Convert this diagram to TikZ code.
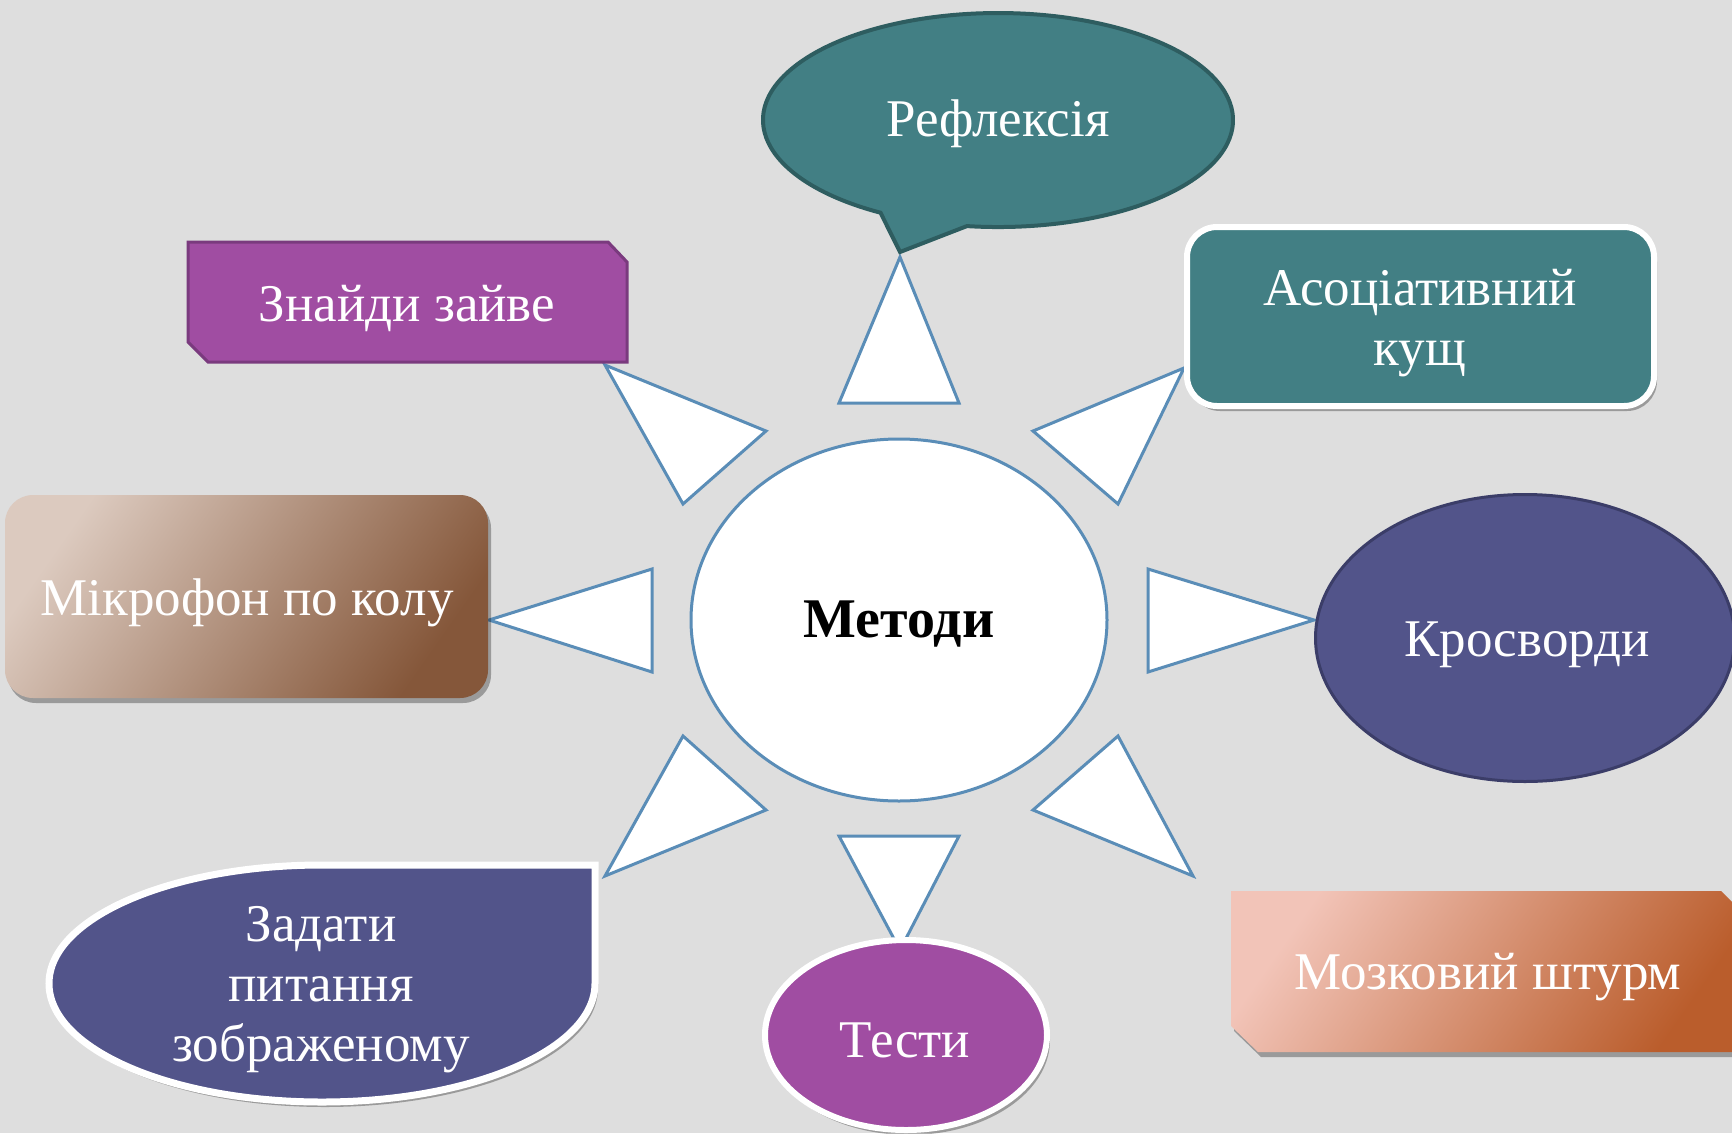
\documentclass[tikz,border=0pt]{standalone}
\usepackage{fontspec}
\setmainfont{Liberation Serif}
\usetikzlibrary{shapes.geometric,shadows}
\definecolor{bgc}{HTML}{DEDEDE}
\definecolor{tealc}{HTML}{427F84}
\definecolor{tealb}{HTML}{2E5D60}
\definecolor{purc}{HTML}{A04DA2}
\definecolor{purb}{HTML}{7A3A7E}
\definecolor{navyc}{HTML}{52548A}
\definecolor{navyb}{HTML}{3B3D68}
\definecolor{triblue}{HTML}{5A8DB7}
\definecolor{brA}{HTML}{DCCABF}
\definecolor{brB}{HTML}{B08672}
\definecolor{brC}{HTML}{85573A}
\definecolor{orA}{HTML}{F2C4B8}
\definecolor{orB}{HTML}{E5835C}
\definecolor{orC}{HTML}{BA5D2C}
\begin{document}
\begin{tikzpicture}[x=1pt,y=-1pt,
  tri/.style={draw=triblue,fill=white,line width=3pt,line join=miter},
  lbl/.style={text=white,font=\fontsize{53}{60}\selectfont,align=center,inner sep=0pt},
  shd/.style={drop shadow={shadow xshift=3pt,shadow yshift=-5pt,opacity=0.3,fill=black}}]
\useasboundingbox (0,0) rectangle (1732,1133);
\clip (0,0) rectangle (1732,1133);
\fill[bgc] (0,0) rectangle (1732,1133);
% triangles (pointers)
\draw[tri] (900,257) -- (839,403) -- (959,403) -- cycle;
\draw[tri] (900,950) -- (839,836) -- (959,836) -- cycle;
\draw[tri] (489,620) -- (652,569) -- (652,672) -- cycle;
\draw[tri] (1314,620) -- (1148,569) -- (1148,672) -- cycle;
\draw[tri] (605,365) -- (683,504) -- (766,431) -- cycle;
\draw[tri] (1184,368) -- (1033,431) -- (1118,504) -- cycle;
\draw[tri] (605,876) -- (683,736) -- (766,810) -- cycle;
\draw[tri] (1193,876) -- (1033,810) -- (1118,736) -- cycle;
% centre
\node[ellipse,draw=triblue,line width=3pt,fill=white,minimum width=416pt,minimum height=362pt,inner sep=0pt] (m) at (899,620) {};
\node[font=\fontsize{56}{60}\selectfont\bfseries,inner sep=0pt] (mt) at (899,624) {Методи};
% Рефлексія callout
\draw[fill=tealc,draw=tealb,line width=4pt,line join=miter] (880.5,212.7)
  arc[start angle=120,end angle=457.6,x radius=235,y radius=107] -- (900,252) -- cycle;
\node[lbl] (r) at (998,124) {Рефлексія};
% Асоціативний кущ
\node[shd,rectangle,rounded corners=30pt,draw=white,line width=6pt,fill=tealc,
  minimum width=467pt,minimum height=179pt] (a) at (1420.5,316.5) {};
\node[lbl] (at) at (1420,323) {Асоціативний\\кущ};
% Кросворди
\node[ellipse,draw=navyb,line width=3pt,fill=navyc,minimum width=419pt,minimum height=287pt] (k) at (1525,638) {};
\node[lbl] (kt) at (1527,645) {Кросворди};
% Мозковий штурм
\path[shd,left color=orA,middle color=orB,right color=orC,shading angle=55]
  (1231,891) -- (1721,891) -- (1745,915) -- (1745,1052) -- (1258,1052) -- (1231,1026) -- cycle;
\node[lbl] (b) at (1488,977) {Мозковий штурм};
% Тести
\node[shd,ellipse,draw=white,line width=6pt,fill=purc,minimum width=282pt,minimum height=190pt] (t) at (906,1035) {};
\node[lbl] (tt) at (905,1040) {Тести};
% Задати питання зображеному
\draw[shd,fill=navyc,draw=white,line width=7pt,line join=miter]
  (595,865) -- (595,983.5) arc[start angle=0,end angle=270,x radius=273,y radius=118.5] -- cycle;
\node[lbl] (z) at (321,990) {Задати\\питання\\зображеному};
% Мікрофон по колу
\node[shd,rectangle,rounded corners=28pt,minimum width=483pt,minimum height=203pt,
  left color=brA,middle color=brB,right color=brC,shading angle=55] (p) at (246.5,596.5) {};
\node[lbl] (pt) at (247,603) {Мікрофон по колу};
% Знайди зайве
\draw[fill=purc,draw=purb,line width=3pt,line join=miter]
  (188,242) -- (608,242) -- (627,262) -- (627,362) -- (208,362) -- (188,342) -- cycle;
\node[lbl] (s) at (407,308) {Знайди зайве};
\end{tikzpicture}
\end{document}
